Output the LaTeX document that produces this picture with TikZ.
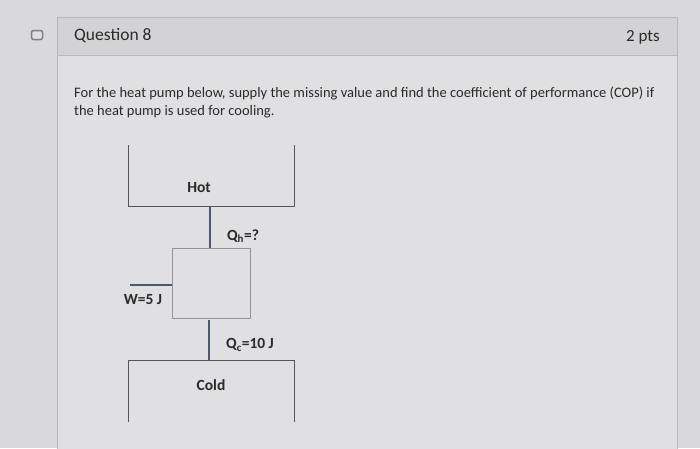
\documentclass[tikz,border=0pt]{standalone}
\usepackage{fontspec}
\setmainfont{Carlito}
\definecolor{bg}{HTML}{D9D9DB}
\definecolor{card}{HTML}{E0E0E2}
\definecolor{hdr}{HTML}{D3D3D5}
\definecolor{edge}{HTML}{B8B8BA}
\definecolor{pipe}{HTML}{4A5872}
\definecolor{ink}{HTML}{2A2A2A}
\begin{document}
\begin{tikzpicture}[x=1pt,y=-1pt,
  res/.style={draw=ink!80,line width=1pt},
  pipeline/.style={draw=pipe,line width=2pt},
  lbl/.style={text=ink,font=\bfseries\fontsize{15.5}{17}\selectfont},
  txt/.style={text=ink,font=\fontsize{14.5}{17}\selectfont,anchor=west,inner sep=0}]
\useasboundingbox (0,0) rectangle (700,448);
\fill[bg] (0,0) rectangle (700,448);
\fill[card,draw=edge] (57,17) rectangle (677,460);
\fill[hdr,draw=edge] (57,17) rectangle (677,55);
\node[draw=gray,line width=1.5pt,fill=card,rounded corners=2pt,minimum width=11pt,minimum height=9pt,inner sep=0] (icon) at (37,35) {};
\node[txt,font=\fontsize{17.5}{20}\selectfont] (q) at (74,36) {Question 8};
\node[txt,font=\fontsize{17}{20}\selectfont,anchor=east] (pts) at (660,37) {2 pts};
\node[txt] (l1) at (74,93) {For the heat pump below, supply the missing value and find the coefficient of performance (COP) if};
\node[txt] (l2) at (74,112) {the heat pump is used for cooling.};
% reservoirs
\draw[res] (128,145) -- (128,206) -- (294,206) -- (294,145);
\draw[res] (128,422) -- (128,360) -- (294,360) -- (294,422);
\node[draw=ink!50,line width=0.8pt,minimum width=78pt,minimum height=70pt,inner sep=0] (pump) at (211,283) {};
\coordinate (hb) at (210,206);
\coordinate (ct) at (209,360);
\coordinate (wl) at (130,285);
\draw[pipeline] (hb) -- (pump.north -| hb);
\draw[pipeline] (ct) -- ([yshift=-2pt]pump.south -| ct);
\draw[pipeline] (wl) -- (pump.west |- wl);
\node[lbl] (hot) at (199,188) {Hot};
\node[lbl] (cold) at (211,385) {Cold};
\node[lbl] (qh) at (243,236) {Q\textsubscript{h}=?};
\node[lbl] (qc) at (250,345) {Q\textsubscript{c}=10 J};
\node[lbl] (w) at (143,300) {W=5 J};
\end{tikzpicture}
\end{document}
